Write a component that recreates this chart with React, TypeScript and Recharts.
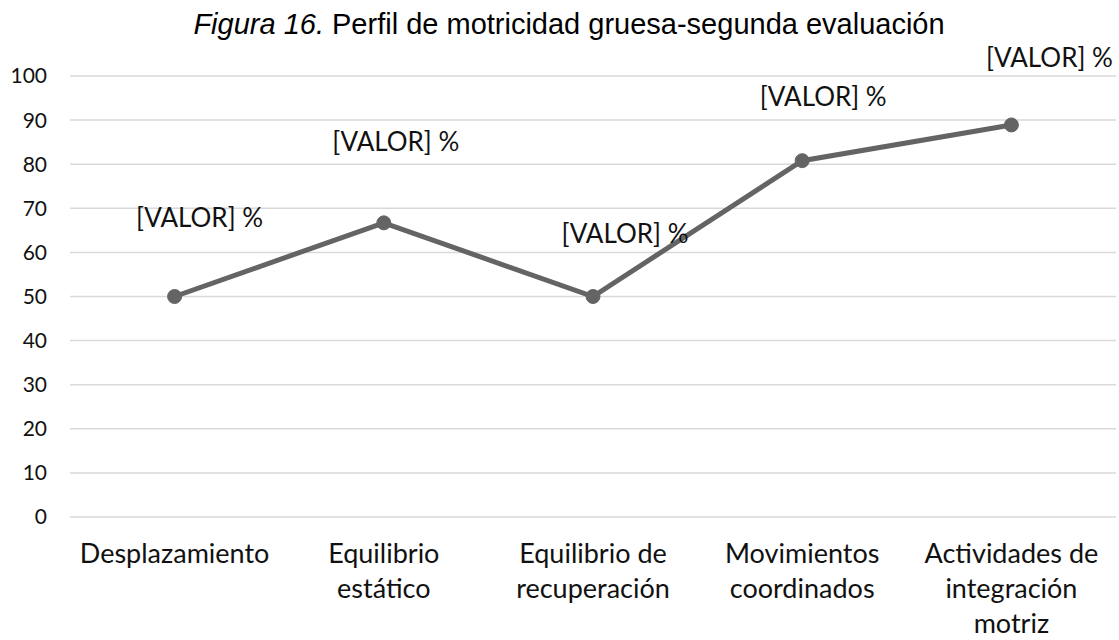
import { LineChart, Line, XAxis, YAxis, CartesianGrid } from "recharts";

const CATEGORIES = [
  "Desplazamiento",
  "Equilibrio\nestático",
  "Equilibrio de\nrecuperación",
  "Movimientos\ncoordinados",
  "Actividades de\nintegración\nmotriz",
];
const VALUES = [50, 66.7, 50, 80.8, 88.9];
const Y_TICKS = [0, 10, 20, 30, 40, 50, 60, 70, 80, 90, 100];
const LABEL_TEXT = "[VALOR] %";

// hand-placed label spots (dx from point, baseline dy from point)
const LABEL_OFFSETS = [
  [25, -70],
  [12, -72],
  [32, -54],
  [21, -55],
  [38, -58],
];

const LINE_COLOR = "#646464";
const TEXT_FONT = "Lato, 'Open Sans', sans-serif";

const data = CATEGORIES.map((name, i) => ({ name, value: VALUES[i] }));

function CategoryTick({ x, y, payload }: any) {
  const lines = String(payload.value).split("\n");
  return (
    <text x={x} y={y + 46} textAnchor="middle" fill="#111" fontSize={27} fontFamily={TEXT_FONT}>
      {lines.map((l, i) => (
        <tspan key={i} x={x} dy={i === 0 ? 0 : 35}>
          {l}
        </tspan>
      ))}
    </text>
  );
}

function ValueLabel({ x, y, index }: any) {
  const [dx, dy] = LABEL_OFFSETS[index] ?? [0, -20];
  return (
    <text x={x + dx} y={y + dy} textAnchor="middle" fill="#111" fontSize={26} fontFamily={TEXT_FONT}>
      {LABEL_TEXT}
    </text>
  );
}

export default function App() {
  return (
    <div style={{ position: "absolute", left: 0, top: 0, width: 1119, height: 640, background: "#fff" }}>
      <div
        style={{
          position: "absolute",
          left: 569,
          top: 10,
          transform: "translateX(-50%)",
          whiteSpace: "nowrap",
          fontFamily: "'Liberation Sans', Arial, sans-serif",
          fontSize: 29,
          lineHeight: "29px",
          color: "#000",
        }}
      >
        <i>Figura 16.</i> Perfil de motricidad gruesa-segunda evaluación
      </div>
      <LineChart width={1119} height={640} data={data} margin={{ top: 76, right: 3, bottom: 0, left: 0 }}>
        <CartesianGrid vertical={false} stroke="#d9d9d9" strokeWidth={1.5} />
        <XAxis
          dataKey="name"
          interval={0}
          axisLine={false}
          tickLine={false}
          tickSize={0}
          tickMargin={0}
          height={123}
          padding={{ left: 104.6, right: 104.6 }}
          tick={<CategoryTick />}
        />
        <YAxis
          domain={[0, 100]}
          ticks={Y_TICKS}
          width={70}
          axisLine={false}
          tickLine={false}
          tickSize={0}
          tickMargin={23}
          tick={{ fill: "#111", fontSize: 21, fontFamily: TEXT_FONT }}
        />
        <Line
          type="linear"
          dataKey="value"
          stroke={LINE_COLOR}
          strokeWidth={5}
          dot={{ r: 7, fill: LINE_COLOR, stroke: LINE_COLOR, strokeWidth: 1 }}
          label={<ValueLabel />}
          isAnimationActive={false}
        />
      </LineChart>
    </div>
  );
}
